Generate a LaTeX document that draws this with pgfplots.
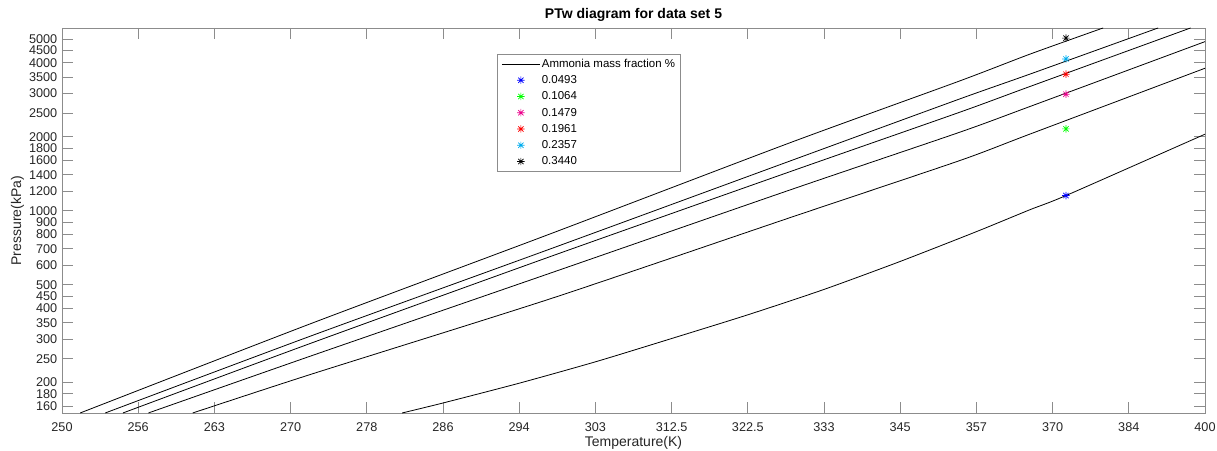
\documentclass[border=0pt]{standalone}
\usepackage{fontspec}
\setmainfont{Liberation Sans}
\usepackage{pgfplots}
\pgfplotsset{compat=1.18}
\usepackage{pgfplotstable}

\pgfdeclareplotmark{mstar}{%
  \pgfpathmoveto{\pgfpoint{-\pgfplotmarksize}{0pt}}\pgfpathlineto{\pgfpoint{\pgfplotmarksize}{0pt}}%
  \pgfpathmoveto{\pgfpoint{0pt}{-\pgfplotmarksize}}\pgfpathlineto{\pgfpoint{0pt}{\pgfplotmarksize}}%
  \pgfpathmoveto{\pgfpoint{-.707\pgfplotmarksize}{-.707\pgfplotmarksize}}\pgfpathlineto{\pgfpoint{.707\pgfplotmarksize}{.707\pgfplotmarksize}}%
  \pgfpathmoveto{\pgfpoint{-.707\pgfplotmarksize}{.707\pgfplotmarksize}}\pgfpathlineto{\pgfpoint{.707\pgfplotmarksize}{-.707\pgfplotmarksize}}%
  \pgfusepathqstroke}

% curves: T (K), P (kPa)
\pgfplotstableread{
T P
251.5 150.5
272.1 346
297.7 806
328.5 1894
354.4 3376
366.3 4333
379.7 5542
}\cA
\pgfplotstableread{
T P
253.6 150.5
272.1 308.2
297.7 700
328.5 1596
354.4 2852
366.3 3594
390.4 5542
}\cB
\pgfplotstableread{
T P
255.1 150.5
272.1 287.9
297.7 651.6
328.5 1444
354.4 2518
366.3 3200
397.0 5542
}\cC
\pgfplotstableread{
T P
257.3 150.5
272.1 255.6
297.7 557.9
328.5 1217
354.4 2088
366.3 2653
400 4876
}\cD
\pgfplotstableread{
T P
261.2 150.5
272.1 215.3
297.7 438.7
328.5 938.8
354.4 1601
366.3 2049
400 3801
}\cE
\pgfplotstableread{
T P
281.4 150.5
285.7 165.2
294.2 199.3
303.2 243.9
312.7 303.6
322.6 377.6
333.2 477.1
344.8 621.9
357.2 823.6
366.3 1009
372.8 1153
400 2049
}\cF
% measured points
\pgfplotstableread{
T P w
372.8 1153 0.0493
372.8 2153 0.1064
372.8 2980 0.1479
372.8 3594 0.1961
372.8 4146 0.2357
372.8 5040 0.3440
}\pts

\definecolor{axgray}{gray}{0.55}
\definecolor{txtgray}{gray}{0.15}

\begin{document}
\begin{tikzpicture}
\begin{axis}[
  name=ax,
  scale only axis,
  width=857.25pt, height=289pt,
  ymode=log,
  xmin=-40, xmax=-25,
  ymin=150, ymax=5540,
  xtick={-40,-39,...,-25},
  xticklabels={250,256,263,270,278,286,294,303,312.5,322.5,333,345,357,370,384,400},
  ytick={160,180,200,250,300,350,400,450,500,600,700,800,900,1000,1200,1400,1600,1800,2000,2500,3000,3500,4000,4500,5000},
  yticklabels={160,180,200,250,300,350,400,450,500,600,700,800,900,1000,1200,1400,1600,1800,2000,2500,3000,3500,4000,4500,5000},
  yminorticks=false, xminorticks=false,
  tick align=inside,
  major tick length=8.25pt,
  axis line style={axgray, line width=0.6pt},
  tick style={axgray, line width=0.6pt},
  every tick label/.append style={font=\fontsize{9.5}{11}\selectfont, text=txtgray},
  xticklabel style={yshift=-3.5pt},
  xlabel={Temperature(K)},
  xlabel style={yshift=3pt},
  ylabel={Pressure(kPa)},
  ylabel shift=-3pt,
  label style={font=\fontsize{10.5}{12}\selectfont, text=txtgray},
  title={PTw diagram for data set 5},
  title style={font=\fontsize{10.5}{12}\selectfont\bfseries, yshift=-4.5pt},
  legend style={at={(0.3808,0.9317)}, anchor=north west, draw=axgray,
    font=\fontsize{8.6}{10}\selectfont, cells={anchor=west},
    nodes={inner sep=1.2pt, text height=6.8pt, text depth=1.8pt}, row sep=1.2pt,
    inner xsep=3pt, inner ysep=1.5pt},
  legend image code/.code={\draw[#1,mark repeat=2,mark phase=2] plot coordinates {(0cm,0cm) (0.5cm,0cm) (1cm,0cm)};},
]
\addplot[black, line width=0.6pt, smooth, tension=0.4] table[x expr=-10000/\thisrow{T}, y=P] {\cA};
\addlegendentry{Ammonia mass fraction \%}
\addplot[black, line width=0.6pt, smooth, tension=0.4, forget plot] table[x expr=-10000/\thisrow{T}, y=P] {\cB};
\addplot[black, line width=0.6pt, smooth, tension=0.4, forget plot] table[x expr=-10000/\thisrow{T}, y=P] {\cC};
\addplot[black, line width=0.6pt, smooth, tension=0.4, forget plot] table[x expr=-10000/\thisrow{T}, y=P] {\cD};
\addplot[black, line width=0.6pt, smooth, tension=0.4, forget plot] table[x expr=-10000/\thisrow{T}, y=P] {\cE};
\addplot[black, line width=0.6pt, smooth, tension=0.4, forget plot] table[x expr=-10000/\thisrow{T}, y=P] {\cF};
\addplot[only marks, mark=mstar, mark size=2.8pt, color=blue, mark options={line width=0.5pt}] table[x expr=-10000/\thisrow{T}, y=P, skip coords between index={1}{6}] {\pts};
\addlegendentry{0.0493}
\addplot[only marks, mark=mstar, mark size=2.8pt, color=green, mark options={line width=0.5pt}] table[x expr=-10000/\thisrow{T}, y=P, skip coords between index={0}{1}, skip coords between index={2}{6}] {\pts};
\addlegendentry{0.1064}
\addplot[only marks, mark=mstar, mark size=2.8pt, color=magenta, mark options={line width=0.5pt}] table[x expr=-10000/\thisrow{T}, y=P, skip coords between index={0}{2}, skip coords between index={3}{6}] {\pts};
\addlegendentry{0.1479}
\addplot[only marks, mark=mstar, mark size=2.8pt, color=red, mark options={line width=0.5pt}] table[x expr=-10000/\thisrow{T}, y=P, skip coords between index={0}{3}, skip coords between index={4}{6}] {\pts};
\addlegendentry{0.1961}
\addplot[only marks, mark=mstar, mark size=2.8pt, color=cyan, mark options={line width=0.5pt}] table[x expr=-10000/\thisrow{T}, y=P, skip coords between index={0}{4}, skip coords between index={5}{6}] {\pts};
\addlegendentry{0.2357}
\addplot[only marks, mark=mstar, mark size=2.8pt, color=black, mark options={line width=0.5pt}] table[x expr=-10000/\thisrow{T}, y=P, skip coords between index={0}{5}] {\pts};
\addlegendentry{0.3440}
\end{axis}
\pgfresetboundingbox
\path ([shift={(-46.5pt,-27.5pt)}]ax.south west) rectangle ([shift={(9pt,21pt)}]ax.north east);
\end{tikzpicture}
\end{document}
